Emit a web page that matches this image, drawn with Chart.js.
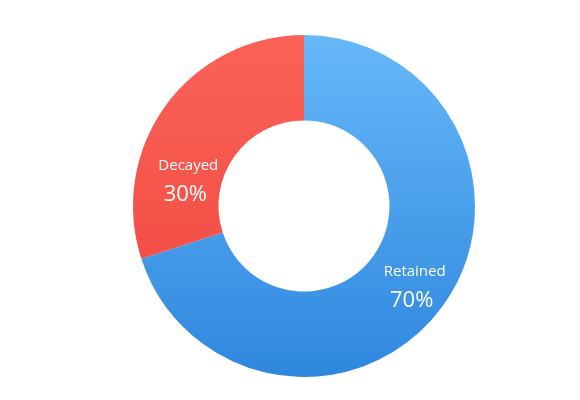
<!DOCTYPE html>
<html><head><meta charset="utf-8">
<script src="https://cdn.jsdelivr.net/npm/chart.js@4"></script>
<style>html,body{margin:0;background:#fff}#w{width:580px;height:400px}</style>
</head><body><div id="w"><canvas id="c"></canvas></div>
<script>
const categories = ["Retained", "Decayed"];
const values = [70, 30];
const labelShift = [[0, 0], [-5, 55]];

const labelPlugin = {
  id: 'lbl',
  afterDatasetsDraw(chart) {
    const ctx = chart.ctx;
    chart.getDatasetMeta(0).data.forEach((arc, i) => {
      const mid = (arc.startAngle + arc.endAngle) / 2;
      const r = arc.outerRadius * 0.8;
      const x = arc.x + Math.cos(mid) * r + labelShift[i][0];
      const y = arc.y + Math.sin(mid) * r + labelShift[i][1];
      ctx.save();
      ctx.fillStyle = '#fff';
      ctx.textAlign = 'center';
      ctx.textBaseline = 'middle';
      ctx.font = '15px "Open Sans"';
      ctx.fillText(categories[i], x, y - 15);
      ctx.font = '22px "Open Sans"';
      ctx.fillText(values[i] + '%', x - 3, y + 14);
      ctx.restore();
    });
  }
};

function grad(ctx, area, top, bottom) {
  const g = ctx.createLinearGradient(0, area.top, 0, area.bottom);
  g.addColorStop(0, top); g.addColorStop(1, bottom);
  return g;
}

new Chart(document.getElementById('c'), {
  type: 'doughnut',
  data: {
    labels: categories,
    datasets: [{
      data: values,
      borderWidth: 0,
      backgroundColor: (c) => {
        const a = c.chart.chartArea;
        if (!a) return '#4aa3ef';
        return c.dataIndex === 0 ? grad(c.chart.ctx, a, '#66b8f8', '#2f87de')
                                 : grad(c.chart.ctx, a, '#fb6258', '#ee463d');
      }
    }]
  },
  options: {
    responsive: true, maintainAspectRatio: false, animation: false,
    cutout: '50%',
    layout: { padding: { top: 35, bottom: 23, left: 28 } },
    plugins: { legend: { display: false }, tooltip: { enabled: false } }
  },
  plugins: [labelPlugin]
});
</script></body></html>
